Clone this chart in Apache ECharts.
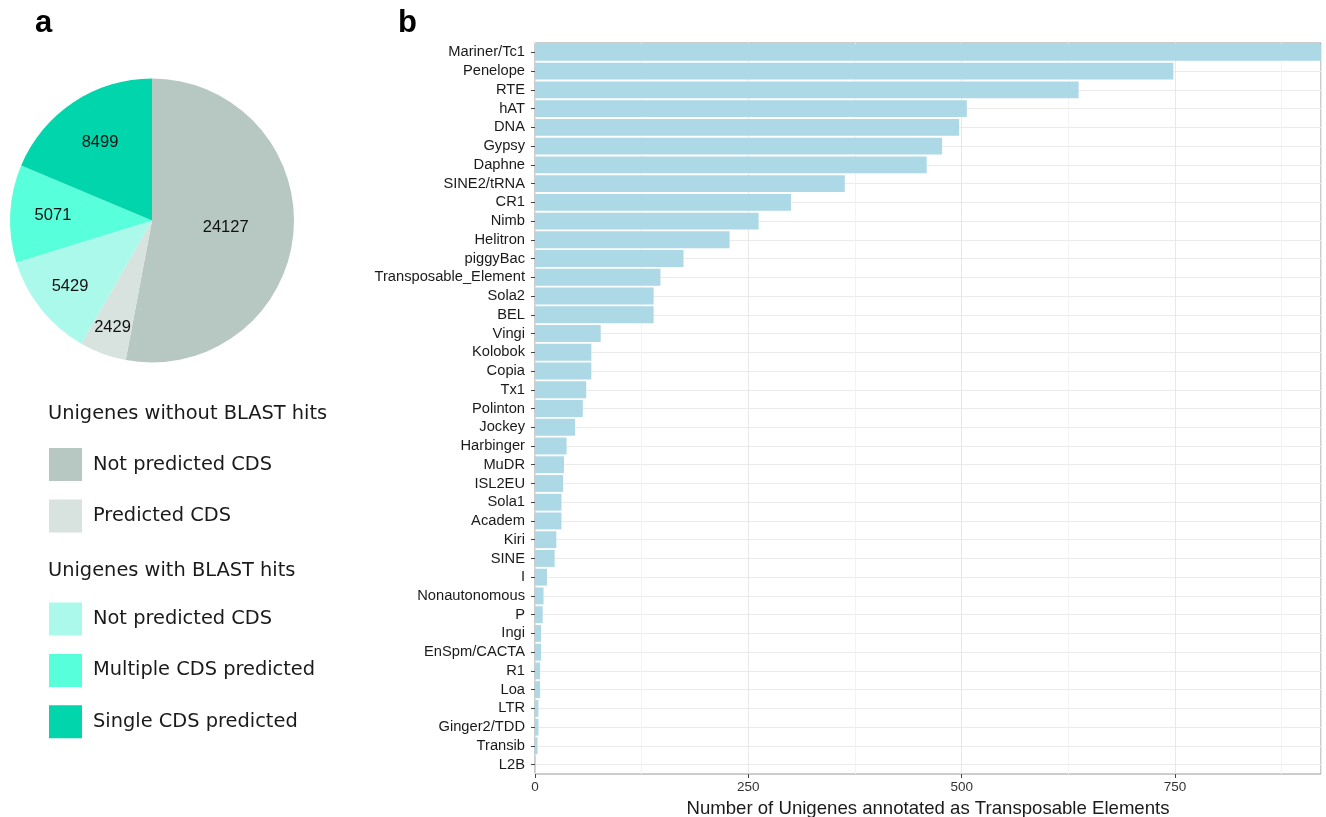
<!DOCTYPE html>
<html>
<head>
<meta charset="utf-8">
<script src="https://cdn.jsdelivr.net/npm/echarts@6/dist/echarts.min.js"></script>
<style>
  html, body { margin: 0; padding: 0; background: #fff; }
  #chart { width: 1326px; height: 817px; }
</style>
</head>
<body>
<div id="chart"></div>
<script>
// Panel a: unigene classes
const groupTitles = ['Unigenes without BLAST hits', 'Unigenes with BLAST hits'];
const sliceLabels = ['Not predicted CDS', 'Predicted CDS', 'Not predicted CDS', 'Multiple CDS predicted', 'Single CDS predicted'];
const sliceGroup = [0, 0, 1, 1, 1];
const sliceValues = [24127, 2429, 5429, 5071, 8499];
const sliceColors = ['#b7c8c2', '#d8e2df', '#abf9ea', '#58ffdb', '#00d5ac'];
// radial position of each value label, relative to the default mid-radius spot
const labelRadius = [1.0, 1.54, 1.42, 1.34, 1.27];

// Panel b: transposable element families
const teFamilies = ['Mariner/Tc1', 'Penelope', 'RTE', 'hAT', 'DNA', 'Gypsy', 'Daphne', 'SINE2/tRNA', 'CR1', 'Nimb',
  'Helitron', 'piggyBac', 'Transposable_Element', 'Sola2', 'BEL', 'Vingi', 'Kolobok', 'Copia', 'Tx1', 'Polinton',
  'Jockey', 'Harbinger', 'MuDR', 'ISL2EU', 'Sola1', 'Academ', 'Kiri', 'SINE', 'I', 'Nonautonomous',
  'P', 'Ingi', 'EnSpm/CACTA', 'R1', 'Loa', 'LTR', 'Ginger2/TDD', 'Transib', 'L2B'];
const teCounts = [921, 748, 637, 506, 497, 477, 459, 363, 300, 262,
  228, 174, 147, 139, 139, 77, 66, 66, 60, 56,
  47, 37, 34, 33, 31, 31, 25, 23, 14, 10,
  9, 7, 7, 6, 6, 4, 4, 3, 1];
const xTicks = [0, 250, 500, 750];

const SEP = '|';
const pieData = sliceValues.map((v, i) => ({
  name: groupTitles[sliceGroup[i]] + SEP + sliceLabels[i],
  value: v,
  itemStyle: { color: sliceColors[i] }
}));
const groupNames = g => pieData.filter((d, i) => sliceGroup[i] === g).map(d => d.name);

const PIE_CENTER = [152, 220.5];
const sansFont = 'Liberation Sans';
const legendFont = 'DejaVu Sans';

const chart = echarts.init(document.getElementById('chart'), null, { renderer: 'canvas' });

const legendBase = {
  orient: 'vertical',
  left: 49,
  padding: 0,
  itemWidth: 33,
  itemHeight: 33,
  itemGap: 18.4,
  icon: 'rect',
  selectedMode: false,
  formatter: name => name.split(SEP)[1],
  textStyle: { fontFamily: legendFont, fontSize: 19.4, color: '#1a1a1a', padding: [0, 0, 0, 6] }
};

const maxX = teCounts[0];

chart.setOption({
  animation: false,
  backgroundColor: '#ffffff',
  title: [
    { text: 'a', left: 35, top: 8, padding: 0, textStyle: { fontFamily: sansFont, fontSize: 31, fontWeight: 'bold', color: '#000' } },
    { text: 'b', left: 398, top: 8, padding: 0, textStyle: { fontFamily: sansFont, fontSize: 31, fontWeight: 'bold', color: '#000' } },
    { text: groupTitles[0], left: 48, top: 404, padding: 0, textStyle: { fontFamily: legendFont, fontSize: 19.4, fontWeight: 'normal', color: '#1a1a1a' } },
    { text: groupTitles[1], left: 48, top: 561, padding: 0, textStyle: { fontFamily: legendFont, fontSize: 19.4, fontWeight: 'normal', color: '#1a1a1a' } }
  ],
  legend: [
    Object.assign({}, legendBase, { top: 448, data: groupNames(0) }),
    Object.assign({}, legendBase, { top: 602.5, data: groupNames(1) })
  ],
  grid: {
    left: 535, right: 5, top: 43, bottom: 43,
    show: true, borderColor: '#9a9a9a', borderWidth: 1, backgroundColor: 'transparent',
    containLabel: false,
    outerBoundsMode: 'none'
  },
  xAxis: [
    {
      type: 'value', min: 0, max: maxX, interval: 250,
      name: 'Number of Unigenes annotated as Transposable Elements',
      nameLocation: 'middle', nameGap: 20,
      nameTextStyle: { fontFamily: sansFont, fontSize: 18.6, color: '#1a1a1a' },
      axisLine: { show: false },
      axisTick: { show: true, length: 4, lineStyle: { color: '#444' }, customValues: xTicks },
      axisLabel: { fontFamily: sansFont, fontSize: 13.5, color: '#333', margin: 6, customValues: xTicks },
      splitLine: { show: false }
    },
    {
      // background grid: major lines every 250, minor halfway between
      type: 'value', min: 0, max: maxX, interval: 125, position: 'top',
      axisLine: { show: false }, axisTick: { show: false }, axisLabel: { show: false },
      splitLine: { show: true, lineStyle: { color: ['#e8e8e8', '#f3f3f3'], width: 1 } }
    }
  ],
  yAxis: {
    type: 'category', data: teFamilies, inverse: true,
    axisLine: { show: false },
    axisTick: { show: true, alignWithLabel: true, interval: 0, length: 4, lineStyle: { color: '#444' } },
    axisLabel: { interval: 0, fontFamily: sansFont, fontSize: 14.7, color: '#1a1a1a', margin: 10 },
    splitLine: { show: true, interval: 0, alignWithLabel: true, lineStyle: { color: '#ebebeb', width: 1 } }
  },
  series: [
    {
      type: 'pie',
      center: PIE_CENTER,
      radius: 142,
      startAngle: 90,
      clockwise: true,
      avoidLabelOverlap: false,
      data: pieData,
      label: {
        show: true, position: 'inside', formatter: '{c}',
        fontFamily: sansFont, fontSize: 16.5, color: '#111'
      },
      labelLine: { show: false },
      labelLayout: params => {
        const k = labelRadius[params.dataIndex];
        const r = params.labelRect;
        const cx = r.x + r.width / 2, cy = r.y + r.height / 2;
        return { dx: (cx - PIE_CENTER[0]) * (k - 1), dy: (cy - PIE_CENTER[1]) * (k - 1) };
      },
      itemStyle: { borderWidth: 0 },
      emphasis: { disabled: true }
    },
    {
      type: 'bar',
      xAxisIndex: 0,
      data: teCounts,
      barCategoryGap: '10%',
      itemStyle: { color: '#add8e6' },
      emphasis: { disabled: true }
    }
  ]
});
</script>
</body>
</html>
